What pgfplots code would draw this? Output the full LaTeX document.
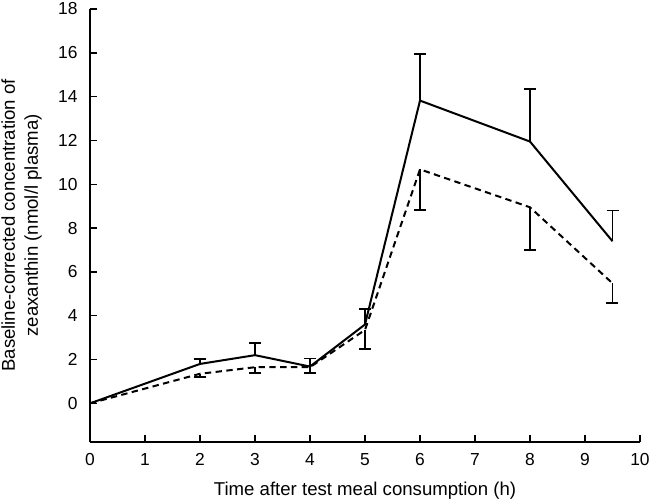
\documentclass[border=0pt]{standalone}
\usepackage{pgfplots}
\pgfplotsset{compat=1.18}
\usepackage{fontspec}
\setmainfont{Liberation Sans}
\begin{document}
\begin{tikzpicture}
\begin{axis}[
  name=ax,
  scale only axis,
  width=275pt, height=216.35pt,
  xmin=0, xmax=10, ymin=-1.75, ymax=18,
  axis lines*=left,
  axis line style={line width=0.9pt,-},
  xtick={0,1,...,10}, ytick={0,2,...,18},
  tick align=inside,
  major tick length=3.3pt,
  tick style={line width=0.7pt, black},
  /pgf/number format/assume math mode=true,
  ticklabel style={font=\fontsize{8.7}{10}\selectfont},
  xticklabel style={yshift=-2.3pt},
  yticklabel style={xshift=-2.7pt},
  xlabel={Time after test meal consumption (h)},
  ylabel={Baseline-corrected concentration of\\zeaxanthin (nmol/l plasma)},
  label style={font=\fontsize{9.3}{11.5}\selectfont},
  xlabel style={at={(axis description cs:0.5,0)}, anchor=base, yshift=-26.9pt},
  ylabel style={at={(axis description cs:-0.1245,0.5)}, anchor=center, align=center},
  clip=false,
]
\addplot[black, line width=1pt, mark=none,
  error bars/.cd, y dir=plus, y explicit, error mark=|,
  error bar style={line width=0.9pt, solid},
  error mark options={line width=0.9pt, mark size=3pt, solid}]
coordinates {
  (0,0)
  (2,1.80) +- (0,0.22)
  (3,2.20) +- (0,0.54)
  (4,1.68) +- (0,0.37)
  (5,3.60) +- (0,0.70)
  (6,13.82) +- (0,2.13)
  (8,11.95) +- (0,2.40)
  (9.5,7.40) +- (0,1.40)
};
\addplot[black, line width=1pt, mark=none, dash pattern=on 3.2pt off 2.2pt,
  error bars/.cd, y dir=minus, y explicit, error mark=|,
  error bar style={line width=0.9pt, solid},
  error mark options={line width=0.9pt, mark size=3pt, solid}]
coordinates {
  (0,0)
  (2,1.35) +- (0,0.16)
  (3,1.65) +- (0,0.25)
  (4,1.65) +- (0,0.25)
  (5,3.35) +- (0,0.88)
  (6,10.68) +- (0,1.85)
  (8,8.95) +- (0,1.95)
  (9.5,5.48) +- (0,0.91)
};
\end{axis}
\pgfresetboundingbox
\path[use as bounding box] ([xshift=-45pt,yshift=-29.15pt]ax.south west) rectangle ([xshift=5pt,yshift=4.5pt]ax.north east);
\end{tikzpicture}
\end{document}
